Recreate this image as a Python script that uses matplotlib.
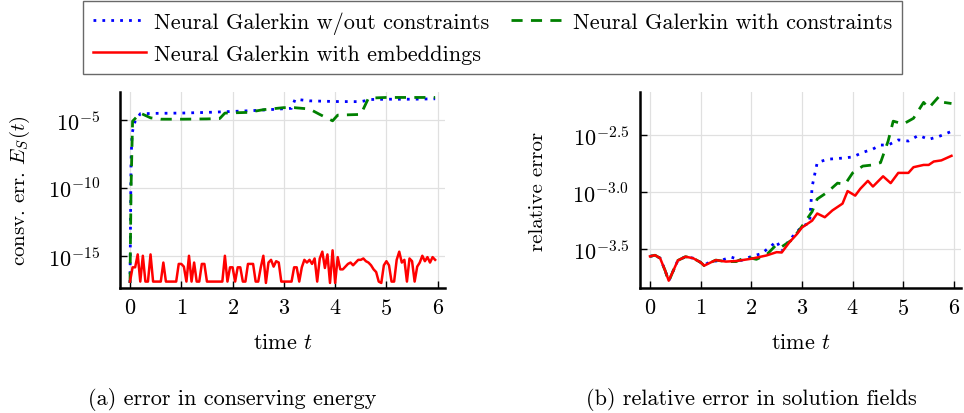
import numpy as np
import matplotlib.pyplot as plt
from matplotlib.ticker import FixedLocator, FixedFormatter, NullLocator

plt.rcParams['font.family'] = ['cmr10', 'DejaVu Serif']
plt.rcParams['mathtext.fontset'] = 'cm'
plt.rcParams['axes.formatter.use_mathtext'] = True

# ---- (a) conservation error, log10 values ----
t_red = np.round(np.arange(0, 6.0, 0.05), 2)
red_cons = [-16.9, -15.85, -15.85, -14.9, -16.9, -15.0, -16.9, -16.9, -14.9, -16.9,
            -16.9, -16.9, -16.9, -15.5, -16.9, -16.9, -16.9, -16.9, -16.9, -15.6,
            -15.6, -15.8, -16.9, -15.0, -16.9, -15.5, -16.9, -16.9, -15.6, -15.6,
            -16.9, -16.9, -16.9, -16.9, -16.9, -16.9, -16.9, -15.0, -16.9, -15.85,
            -15.85, -16.9, -15.85, -15.85, -16.9, -16.9, -15.6, -15.6, -15.6, -16.9,
            -16.9, -15.85, -15.0, -17.0, -15.5, -15.3, -15.8, -15.4, -15.5, -16.9,
            -16.9, -16.9, -16.9, -16.9, -15.85, -15.85, -16.9, -15.85, -15.3, -15.5,
            -15.3, -15.6, -15.2, -16.9, -15.2, -14.7, -15.9, -14.9, -17.0, -14.6,
            -17.0, -15.1, -16.0, -16.0, -15.8, -15.6, -15.5, -15.7, -15.5, -15.3,
            -15.3, -15.2, -15.4, -15.5, -15.7, -16.0, -16.2, -16.9, -17.0, -15.7,
            -15.4, -15.7, -16.9, -16.9, -15.3, -14.7, -15.5, -15.3, -16.9, -15.2,
            -15.4, -16.9, -15.8, -15.5, -15.0, -15.4, -15.1, -15.5, -15.1, -15.3]

t_blue_a = [0.0, 0.02, 0.04, 0.07, 0.1, 0.2, 0.5, 1.0, 1.5, 2.0, 2.5, 3.0, 3.15, 3.22,
            3.5, 4.0, 4.5, 4.7, 5.0, 5.5, 5.95]
blue_cons = [-17.0, -8.0, -6.0, -5.5, -5.1, -4.55, -4.52, -4.5, -4.45, -4.38, -4.3, -4.18,
             -4.15, -3.48, -3.6, -3.65, -3.66, -3.5, -3.48, -3.48, -3.45]

t_green_a = [0.0, 0.02, 0.05, 0.2, 0.4, 0.6, 1.0, 1.5, 1.75, 1.85, 2.3, 2.6, 3.0, 3.2,
             3.5, 3.7, 3.95, 4.05, 4.5, 4.65, 5.0, 5.5, 5.95]
green_cons = [-17.0, -10.0, -5.1, -4.5, -4.85, -4.95, -4.95, -4.93, -4.9, -4.5, -4.45,
              -4.25, -4.1, -4.1, -4.2, -4.6, -5.07, -4.65, -4.6, -3.4, -3.35, -3.35, -3.35]

# ---- (b) relative error, log10 values ----
t_red_b = [0.0, 0.1, 0.2, 0.3, 0.37, 0.45, 0.55, 0.7, 0.85, 1.0, 1.07, 1.2, 1.3, 1.5,
           1.7, 2.0, 2.3, 2.5, 2.6, 2.75, 2.9, 3.0, 3.2, 3.3, 3.45, 3.6, 3.8, 3.9, 4.05,
           4.15, 4.3, 4.4, 4.6, 4.75, 4.9, 5.1, 5.2, 5.4, 5.5, 5.6, 5.75, 5.95]
red_rel = [-3.564, -3.554, -3.58, -3.69, -3.778, -3.70, -3.60, -3.567, -3.58, -3.617,
           -3.646, -3.617, -3.597, -3.61, -3.605, -3.585, -3.556, -3.527, -3.53, -3.441,
           -3.368, -3.31, -3.25, -3.187, -3.22, -3.16, -3.10, -2.99, -3.03, -2.97,
           -2.90, -2.95, -2.86, -2.92, -2.83, -2.83, -2.78, -2.76, -2.76, -2.73, -2.72,
           -2.68]

t_blue_b = [0.0, 0.1, 0.2, 0.3, 0.37, 0.45, 0.55, 0.7, 0.85, 1.0, 1.07, 1.2, 1.4, 1.6,
            1.8, 2.0, 2.2, 2.4, 2.5, 2.6, 2.75, 2.9, 3.0, 3.15, 3.2, 3.3, 3.5, 3.8, 4.0,
            4.2, 4.4, 4.55, 4.7, 4.9, 5.1, 5.3, 5.5, 5.7, 5.95]
blue_rel = [-3.564, -3.554, -3.58, -3.69, -3.778, -3.70, -3.60, -3.567, -3.58, -3.617,
            -3.64, -3.61, -3.60, -3.57, -3.60, -3.565, -3.54, -3.47, -3.43, -3.52, -3.42,
            -3.35, -3.30, -3.27, -2.95, -2.74, -2.71, -2.70, -2.69, -2.65, -2.62, -2.585,
            -2.585, -2.54, -2.55, -2.50, -2.535, -2.51, -2.465]

t_green_b = [0.0, 0.1, 0.2, 0.3, 0.37, 0.45, 0.55, 0.7, 0.85, 1.0, 1.07, 1.2, 1.3, 1.5,
             1.7, 1.9, 2.1, 2.3, 2.5, 2.6, 2.8, 3.0, 3.2, 3.3, 3.5, 3.7, 3.85, 4.0, 4.2,
             4.4, 4.55, 4.7, 4.8, 5.0, 5.2, 5.4, 5.5, 5.7, 5.8, 5.95]
green_rel = [-3.564, -3.554, -3.58, -3.69, -3.785, -3.70, -3.60, -3.567, -3.58, -3.617,
             -3.646, -3.617, -3.597, -3.61, -3.61, -3.57, -3.59, -3.55, -3.46, -3.48,
             -3.42, -3.30, -3.17, -3.06, -3.0, -2.92, -2.93, -2.83, -2.77, -2.76, -2.74,
             -2.55, -2.375, -2.40, -2.35, -2.21, -2.26, -2.16, -2.21, -2.22]

labels = ['Neural Galerkin w/out constraints', 'Neural Galerkin with constraints',
          'Neural Galerkin with embeddings']

fig = plt.figure(figsize=(9.64, 4.14), dpi=100)
ax1 = fig.add_axes([0.1245, 0.302, 0.337, 0.473])
ax2 = fig.add_axes([0.664, 0.302, 0.333, 0.473])

blue_kw = dict(color='#0000ff', lw=2.0, linestyle=(0, (1, 2.2)))
green_kw = dict(color='#008000', lw=2.0, linestyle=(0, (4, 3)))
red_kw = dict(color='#ff0000', lw=1.8)

ax1.plot(t_blue_a, 10.0 ** np.array(blue_cons), **blue_kw)
ax1.plot(t_green_a, 10.0 ** np.array(green_cons), **green_kw)
ax1.plot(t_red, 10.0 ** np.array(red_cons), **red_kw)
ax1.set_yscale('log')
ax1.set_ylim(10 ** -17.37, 10 ** -2.96)
ax1.yaxis.set_major_locator(FixedLocator([1e-15, 1e-10, 1e-5]))
ax1.yaxis.set_major_formatter(FixedFormatter([r'$10^{-15}$', r'$10^{-10}$', r'$10^{-5}$']))
ax1.yaxis.set_minor_locator(NullLocator())
ax1.set_ylabel(r'consv. err. $E_S(t)$', fontsize=15)
ax1.yaxis.set_label_coords(-0.271, 0.5)
ax1.tick_params(axis='y', pad=14)

ax2.plot(t_blue_b, 10.0 ** np.array(blue_rel), **blue_kw)
ax2.plot(t_green_b, 10.0 ** np.array(green_rel), **green_kw)
ax2.plot(t_red_b, 10.0 ** np.array(red_rel), **red_kw)
ax2.set_yscale('log')
ax2.set_ylim(10 ** -3.842, 10 ** -2.12)
ax2.yaxis.set_major_locator(FixedLocator([10 ** -3.5, 10 ** -3.0, 10 ** -2.5]))
ax2.yaxis.set_major_formatter(FixedFormatter([r'$10^{-3.5}$', r'$10^{-3.0}$', r'$10^{-2.5}$']))
ax2.yaxis.set_minor_locator(NullLocator())
ax2.set_ylabel('relative error', fontsize=15)
ax2.yaxis.set_label_coords(-0.29, 0.5)
ax2.tick_params(axis='y', pad=8)

for ax in (ax1, ax2):
    ax.set_xlim(-0.195, 6.14)
    ax.set_xticks(range(7))
    ax.set_xlabel(r'time $t$', fontsize=16)
    ax.xaxis.set_label_coords(0.5, -0.225)
    ax.grid(True, color='#e0e0e0', lw=0.9)
    ax.set_axisbelow(True)
    for s in ('top', 'right'):
        ax.spines[s].set_visible(False)
    for s in ('left', 'bottom'):
        ax.spines[s].set_linewidth(1.8)
    ax.tick_params(direction='in', length=5, width=1.0, labelsize=16)
    ax.tick_params(axis='x', pad=7)

# column-major fill: blue, red in col 1 / green in col 2 gives row-wise order
handles = [plt.Line2D([], [], **blue_kw), plt.Line2D([], [], **red_kw),
           plt.Line2D([], [], **green_kw)]
leg_labels = [labels[0], labels[2], labels[1]]
leg = fig.legend(handles, leg_labels, ncol=2, loc='upper left', bbox_to_anchor=(0.086, 0.995),
                 borderaxespad=0, fontsize=16, frameon=True, fancybox=False,
                 edgecolor='#444444', handlelength=2.4, handletextpad=0.35,
                 columnspacing=1.0, borderpad=0.45, labelspacing=0.5)
leg.get_frame().set_linewidth(1.0)

fig.text(0.241, 0.034, '(a) error in conserving energy', ha='center', va='center', fontsize=16)
fig.text(0.779, 0.034, '(b) relative error in solution fields', ha='center', va='center',
         fontsize=16)

fig.savefig('out.png', dpi=100)
